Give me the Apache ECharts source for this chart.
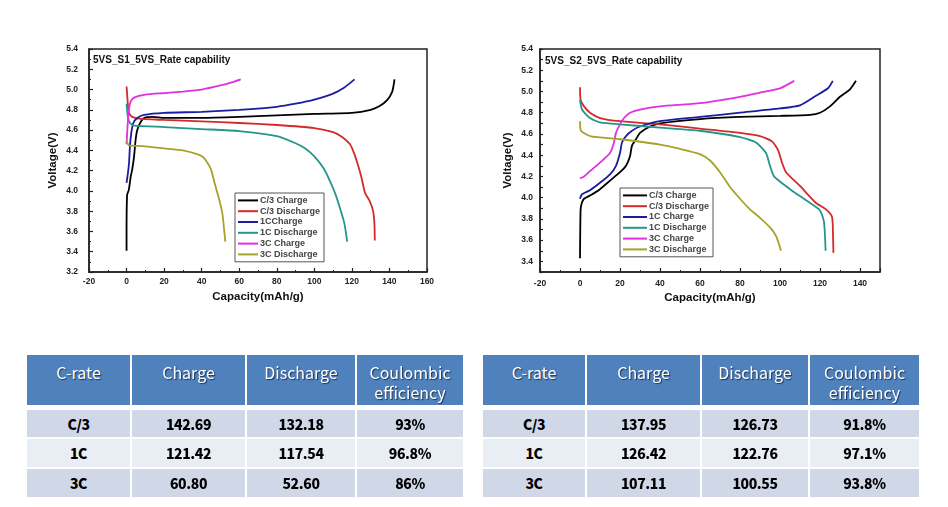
<!DOCTYPE html>
<html><head><meta charset="utf-8">
<script src="https://cdn.jsdelivr.net/npm/echarts@6/dist/echarts.min.js"></script>
<style>
html,body{margin:0;padding:0;background:#fff;}
#chart{position:absolute;left:0;top:0;width:948px;height:507px;}
.cell{position:absolute;display:flex;justify-content:center;text-align:center;box-sizing:border-box;}
.hd{background:#4f81bd;color:#fff;font-family:"Noto Sans CJK KR","Noto Sans",sans-serif;font-size:16px;line-height:20px;align-items:flex-start;padding-top:7px;text-shadow:1px 1px 1px #1d3557;}
.bd{color:#000;font-family:"Noto Sans CJK KR","Noto Sans",sans-serif;font-weight:900;font-size:14px;align-items:center;letter-spacing:-0.4px;}
</style></head>
<body>
<div id="chart"></div>
<div id="tables"></div>
<script>
// ---------- chart data (capacity mAh/g, voltage V) ----------
const s1_c3_charge = [[0,3.41],[0,3.61],[0.3,3.96],[1.2,4.01],[2.2,4.14],[3.0,4.21],[4.0,4.34],[4.8,4.50],[5.7,4.60],[7.5,4.68],[9.5,4.72],[14,4.73],[20,4.72],[40,4.72],[60,4.73],[80,4.745],[100,4.76],[120,4.77],[130,4.80],[135,4.84],[139,4.90],[141.5,4.98],[142.2,5.04],[142.7,5.10]];
const s1_c3_discharge = [[0,5.03],[0.4,4.93],[0.8,4.83],[1.3,4.77],[3,4.73],[7.5,4.71],[20,4.70],[40,4.685],[60,4.67],[80,4.65],[100,4.62],[110,4.58],[115,4.53],[119,4.46],[121,4.38],[123,4.27],[125,4.14],[127,3.98],[129.5,3.90],[131.3,3.80],[132,3.68],[132.2,3.51]];
const s1_1c_charge = [[0,4.08],[0.7,4.17],[1.3,4.27],[1.8,4.44],[2.5,4.57],[3.6,4.67],[5.7,4.72],[9.3,4.75],[20,4.77],[40,4.78],[60,4.80],[80,4.83],[90,4.86],[100,4.90],[110,4.96],[116,5.02],[121.4,5.10]];
const s1_1c_discharge = [[0,4.86],[0.7,4.73],[1.8,4.67],[4,4.645],[20,4.63],[40,4.61],[60,4.59],[80,4.54],[90,4.47],[95,4.42],[100,4.34],[105,4.22],[108,4.11],[111,3.98],[114,3.81],[116,3.68],[117.5,3.50]];
const s1_3c_charge = [[0,4.46],[0.4,4.60],[1.2,4.80],[2.2,4.88],[4,4.92],[10,4.95],[20,4.965],[30,4.98],[40,5.00],[50,5.04],[56,5.07],[60.8,5.10]];
const s1_3c_discharge = [[0,4.50],[1.2,4.45],[5,4.445],[10,4.44],[20,4.42],[30,4.40],[38,4.36],[41,4.33],[43,4.28],[45,4.21],[47,4.07],[49,3.94],[51,3.78],[52,3.61],[52.6,3.50]];

const s2_c3_charge = [[0,3.43],[0.3,3.89],[0.9,3.95],[2,3.99],[5,4.02],[10,4.08],[15,4.16],[20,4.24],[23,4.30],[25,4.39],[26,4.49],[28,4.55],[30,4.61],[35,4.67],[40,4.70],[60,4.74],[80,4.76],[100,4.77],[115,4.78],[120,4.80],[125,4.86],[130,4.95],[135,5.02],[138,5.10]];
const s2_c3_discharge = [[0,5.04],[0.3,4.92],[2,4.86],[5,4.80],[10,4.75],[20,4.72],[40,4.69],[60,4.65],[80,4.61],[90,4.58],[96,4.53],[99,4.45],[101,4.33],[103,4.24],[110,4.11],[118,3.95],[123,3.89],[126,3.82],[126.5,3.65],[126.7,3.48]];
const s2_1c_charge = [[0,3.99],[0.9,4.03],[5,4.07],[10,4.14],[15,4.22],[18,4.30],[20,4.42],[21,4.52],[23,4.58],[26,4.63],[30,4.67],[40,4.72],[60,4.76],[80,4.80],[100,4.84],[110,4.87],[118,4.96],[124,5.03],[126.4,5.10]];
const s2_1c_discharge = [[0,4.92],[1,4.83],[5,4.75],[10,4.71],[20,4.69],[40,4.66],[60,4.63],[80,4.57],[88,4.52],[93,4.42],[95,4.30],[97,4.20],[105,4.08],[115,3.95],[120,3.88],[122,3.77],[122.8,3.50]];
const s2_3c_charge = [[0,4.18],[2,4.20],[5,4.25],[10,4.33],[15,4.42],[17,4.52],[18,4.61],[20,4.69],[22,4.75],[25,4.80],[30,4.83],[40,4.86],[60,4.89],[80,4.95],[90,4.99],[100,5.03],[107.1,5.10]];
const s2_3c_discharge = [[0,4.72],[0.5,4.63],[5,4.58],[20,4.55],[40,4.50],[50,4.46],[60,4.41],[65,4.35],[70,4.24],[75,4.10],[80,3.99],[85,3.89],[90,3.81],[95,3.72],[98,3.64],[100.5,3.50]];

const legendNames1 = ['C/3 Charge','C/3 Discharge','1CCharge','1C Discharge','3C Charge','3C Discharge'];
const legendNames2 = ['C/3 Charge','C/3 Discharge','1C Charge','1C Discharge','3C Charge','3C Discharge'];
const seriesColors = ['#000000','#d42a2a','#1c1ca0','#23968c','#e030e0','#a6a22a'];
const titles = ['5VS_S1_5VS_Rate capability','5VS_S2_5VS_Rate capability'];

// ---------- table data ----------
const tableHeader = ['C-rate','Charge','Discharge','Coulombic<br>efficiency'];
const rates = ['C/3','1C','3C'];
const s1Charge = ['142.69','121.42','60.80'];
const s1Discharge = ['132.18','117.54','52.60'];
const s1Efficiency = ['93%','96.8%','86%'];
const s2Charge = ['137.95','126.42','107.11'];
const s2Discharge = ['126.73','122.76','100.55'];
const s2Efficiency = ['91.8%','97.1%','93.8%'];

const chart = echarts.init(document.getElementById('chart'));
const font = '"Liberation Sans", Arial, sans-serif';

function xAx(gi, max){
  return {
    gridIndex: gi, type:'value', min:-20, max:max, interval:20,
    axisLine:{show:true, lineStyle:{color:'#222', width:1.5}},
    axisTick:{inside:true, length:4, lineStyle:{color:'#222', width:1.2}},
    minorTick:{show:true, splitNumber:2, length:2, lineStyle:{color:'#222'}},
    splitLine:{show:false},
    axisLabel:{color:'#222', fontFamily:font, fontWeight:'bold', fontSize:8.5, margin: gi===0?5:7, showMaxLabel: max===160},
    name:'Capacity(mAh/g)', nameLocation:'middle', nameGap: gi===0?19:20,
    nameTextStyle:{color:'#111', fontFamily:font, fontWeight:'bold', fontSize:11.5}
  };
}
function yAx(gi){
  const base = {
    gridIndex: gi, type:'value', max:5.4,
    axisLine:{show:true, onZero:false, lineStyle:{color:'#222', width:1.5}},
    splitLine:{show:false},
    name:'Voltage(V)', nameLocation:'middle', nameGap: gi===0?30:26,
    nameTextStyle:{color:'#111', fontFamily:font, fontWeight:'bold', fontSize:11.5}
  };
  if (gi===0){
    base.min = 3.2; base.interval = 0.2;
    base.axisTick = {inside:true, length:4, lineStyle:{color:'#222', width:1.2}};
    base.minorTick = {show:true, splitNumber:2, length:2, lineStyle:{color:'#222'}};
    base.axisLabel = {color:'#222', fontFamily:font, fontWeight:'bold', fontSize:8.5, margin:11, formatter:v=>v.toFixed(1)};
  } else {
    base.min = 3.3; base.interval = 0.1;
    base.axisTick = {inside:true, length:3, lineStyle:{color:'#222', width:1.2}};
    base.axisLabel = {color:'#222', fontFamily:font, fontWeight:'bold', fontSize:8.5, margin:7,
      formatter:v=>{const t=Math.round(v*10); return (t%2===0)? (t/10).toFixed(1) : '';}};
  }
  return base;
}

const sets1 = [s1_c3_charge,s1_c3_discharge,s1_1c_charge,s1_1c_discharge,s1_3c_charge,s1_3c_discharge];
const sets2 = [s2_c3_charge,s2_c3_discharge,s2_1c_charge,s2_1c_discharge,s2_3c_charge,s2_3c_discharge];
const series = [];
sets1.forEach((d,i)=>series.push({type:'line', name:legendNames1[i], xAxisIndex:0, yAxisIndex:0, data:d, showSymbol:false, smooth:0.2, color:seriesColors[i], lineStyle:{width:1.8, color:seriesColors[i]}}));
sets2.forEach((d,i)=>series.push({type:'line', name:legendNames2[i], xAxisIndex:1, yAxisIndex:1, data:d, showSymbol:false, smooth:0.2, color:seriesColors[i], lineStyle:{width:1.8, color:seriesColors[i]}}));

function legend(names, left, top, w){
  return {data:names, orient:'vertical', left:left, top:top, icon:'rect', itemWidth:w, itemHeight:2, itemGap:0,
    padding:[2,4,2,3], borderColor:'#555', borderWidth:1, backgroundColor:'#fff',
    textStyle:{fontFamily:font, fontSize:9, fontWeight:'bold', lineHeight:10.8, color:'#444', padding:[0,0,0,-3]}, selectedMode:false};
}

chart.setOption({
  animation:false,
  backgroundColor:'#fff',
  title:[
    {text:titles[0], left:93, top:55, padding:0, textStyle:{fontFamily:font, fontWeight:'bold', fontSize:10, color:'#111'}},
    {text:titles[1], left:545, top:56, padding:0, textStyle:{fontFamily:font, fontWeight:'bold', fontSize:10, color:'#111'}}
  ],
  grid:[
    {left:89, top:49, width:338, height:223, show:true, borderColor:'#222', borderWidth:1.5, backgroundColor:'transparent'},
    {left:540, top:49, width:340, height:223, show:true, borderColor:'#222', borderWidth:1.5, backgroundColor:'transparent'}
  ],
  xAxis:[xAx(0,160), xAx(1,150)],
  yAxis:[yAx(0), yAx(1)],
  legend:[legend(legendNames1,235,193,20), legend(legendNames2,620,188,24)],
  series:series
});

// ---------- tables ----------
function buildTable(cols, charge, discharge, eff){
  const wrap = document.getElementById('tables');
  const rowsY = [[355,405],[410,437],[439,467],[469,497]];
  const body = [rates, charge, discharge, eff];
  const rowBg = ['#d0d8e8','#e9edf4','#d0d8e8'];
  for (let r=0;r<4;r++){
    for (let c=0;c<4;c++){
      const d = document.createElement('div');
      d.className = 'cell ' + (r===0?'hd':'bd');
      d.style.left = cols[c][0]+'px';
      d.style.width = (cols[c][1]-cols[c][0])+'px';
      d.style.top = rowsY[r][0]+'px';
      d.style.height = (rowsY[r][1]-rowsY[r][0])+'px';
      if (r===0){ d.innerHTML = tableHeader[c]; }
      else { d.textContent = body[c][r-1]; d.style.background = rowBg[r-1]; }
      wrap.appendChild(d);
    }
  }
}
buildTable([[27,130],[132,245],[247,355],[357,463]], s1Charge, s1Discharge, s1Efficiency);
buildTable([[483,585],[587,700],[702,808],[810,919]], s2Charge, s2Discharge, s2Efficiency);
</script>
</body></html>
